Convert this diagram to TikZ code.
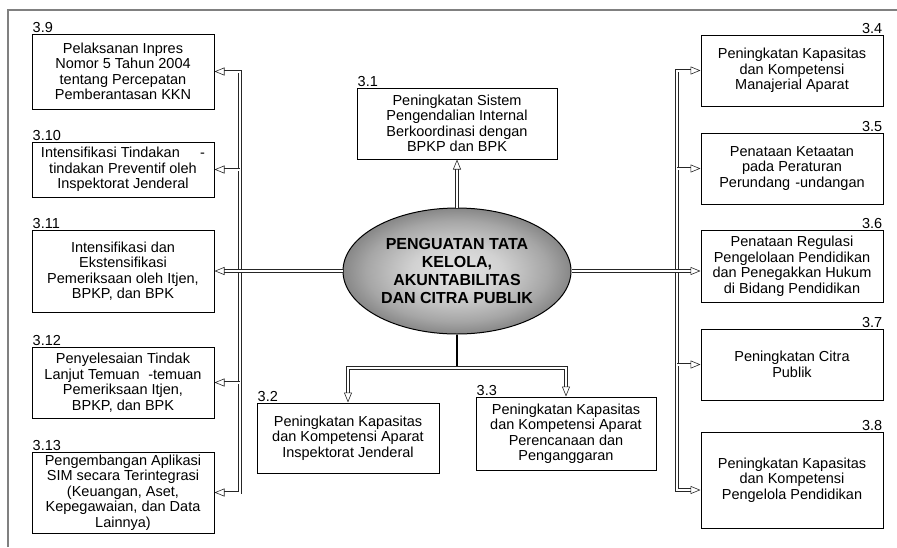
\documentclass[tikz,border=0pt]{standalone}
\usepackage{fontspec}
\setmainfont{Liberation Sans}
\usetikzlibrary{arrows.meta, positioning, shapes.geometric}

\pgfdeclareradialshading{hubshade}{\pgfpoint{0bp}{0bp}}{%
  color(0bp)=(black!10); color(10bp)=(black!18); color(20bp)=(black!35);
  color(25bp)=(black!47); color(50bp)=(black!47)}

\begin{document}
\begin{tikzpicture}[
    x=1pt, y=-1pt,
    >={Triangle[open, length=10pt, width=8pt]},
    box/.style={draw, line width=1pt, minimum width=182pt, align=center, inner sep=2pt, font=\fontsize{14.5}{15.5}\selectfont},
    num/.style={inner sep=1pt, font=\fontsize{14.5}{15}\selectfont},
    dbl/.style={draw=black!85, double=white, double distance=2pt, line width=0.6pt},
    hub/.style={ellipse, draw, line width=1pt, minimum width=228pt, minimum height=126pt, inner sep=0pt,
      shading=hubshade, align=center,
      font=\bfseries\fontsize{16}{18.3}\selectfont}
  ]
  \useasboundingbox (0,0) rectangle (897,547);
  \draw[black!50, line width=1.5pt] (8,547) -- (8,10) -- (897,10);

  % centre
  \node[hub] (hub) at (457,271) {PENGUATAN TATA\\KELOLA,\\AKUNTABILITAS\\DAN CITRA PUBLIK};

  % top and bottom
  \node[box, minimum width=200pt, minimum height=71pt] (b31) at (457,123.5) {Peningkatan Sistem\\Pengendalian Internal\\Berkoordinasi dengan\\BPKP dan BPK};
  \node[box, minimum height=70pt] (b32) at (348,438) {Peningkatan Kapasitas\\dan Kompetensi Aparat\\Inspektorat Jenderal};
  \node[box, minimum width=180pt, minimum height=73pt] (b33) at (566,433.5) {Peningkatan Kapasitas\\dan Kompetensi Aparat\\Perencanaan dan\\Penganggaran};

  % left column
  \node[box, minimum height=75pt] (b39) at (123,71.5) {Pelaksanan Inpres\\Nomor 5 Tahun 2004\\tentang Percepatan\\Pemberantasan KKN};
  \node[box, minimum height=55pt] (b310) at (123,169.5) {Intensifikasi Tindakan\hspace{1.4em}-\\tindakan Preventif oleh\\Inspektorat Jenderal};
  \node[box, minimum height=82pt] (b311) at (123,271) {Intensifikasi dan\\Ekstensifikasi\\Pemeriksaan oleh Itjen,\\BPKP, dan BPK};
  \node[box, minimum height=71pt] (b312) at (123,382.5) {Penyelesaian Tindak\\Lanjut Temuan\hspace{0.6em}-temuan\\Pemeriksaan Itjen,\\BPKP, dan BPK};
  \node[box, minimum height=81pt] (b313) at (123,492.5) {Pengembangan Aplikasi\\SIM secara Terintegrasi\\(Keuangan, Aset,\\Kepegawaian, dan Data\\Lainnya)};

  % right column
  \node[box, minimum height=71pt] (b34) at (792,70.5) {Peningkatan Kapasitas\\dan Kompetensi\\Manajerial Aparat};
  \node[box, minimum height=71pt] (b35) at (792,168.5) {Penataan Ketaatan\\pada Peraturan\\Perundang\hspace{0.35em}-undangan};
  \node[box, minimum height=72pt] (b36) at (792,266) {Penataan Regulasi\\Pengelolaan Pendidikan\\dan Penegakkan Hukum\\di Bidang Pendidikan};
  \node[box, minimum height=71pt] (b37) at (792,364.5) {Peningkatan Citra\\Publik};
  \node[box, minimum height=96pt] (b38) at (792,480) {Peningkatan Kapasitas\\dan Kompetensi\\Pengelola Pendidikan};

  % numbers
  \node[num, above right=0pt and 0pt of b31.north west] (n31) {3.1};
  \node[num, above right=0pt and 0pt of b32.north west] (n32) {3.2};
  \node[num, above right=0pt and 0pt of b33.north west] (n33) {3.3};
  \node[num, above right=0pt and 0pt of b39.north west] (n39) {3.9};
  \node[num, above right=0pt and 0pt of b310.north west] (n310) {3.10};
  \node[num, above right=0pt and 0pt of b311.north west] (n311) {3.11};
  \node[num, above right=0pt and 0pt of b312.north west] (n312) {3.12};
  \node[num, above right=0pt and 0pt of b313.north west] (n313) {3.13};
  \node[num, above left=0pt and 0pt of b34.north east] (n34) {3.4};
  \node[num, above left=0pt and 0pt of b35.north east] (n35) {3.5};
  \node[num, above left=0pt and 0pt of b36.north east] (n36) {3.6};
  \node[num, above left=0pt and 0pt of b37.north east] (n37) {3.7};
  \node[num, above left=0pt and 0pt of b38.north east] (n38) {3.8};

  % connectors
  \coordinate (lbus) at (240,0);
  \coordinate (rbus) at (677,0);
  \coordinate (jb) at (457,368);
  \coordinate (b38in) at ([yshift=-10pt]b38.west);

  \draw[dbl, <->] (b39.east) -- (lbus |- b39.east) -- (lbus |- b313.east) -- (b313.east);
  \foreach \b in {b310,b312}
    \draw[dbl, ->] (lbus |- \b.east) -- (\b.east);
  \draw[dbl, ->] (hub.west) -- (b311.east);

  \draw[dbl, <->] (b34.west) -- (rbus |- b34.west) -- (rbus |- b38in) -- (b38in);
  \foreach \b in {b35,b37}
    \draw[dbl, ->] (rbus |- \b.west) -- (\b.west);
  \draw[dbl, ->] (hub.east) -- (hub.east -| b36.west);

  \draw[dbl, ->] (hub.north) -- (b31.south);
  \draw[line width=2.4pt] (hub.south) -- (jb);
  \draw[dbl, <->] (b32.north) |- (jb) -| (b33.north);
\end{tikzpicture}
\end{document}
